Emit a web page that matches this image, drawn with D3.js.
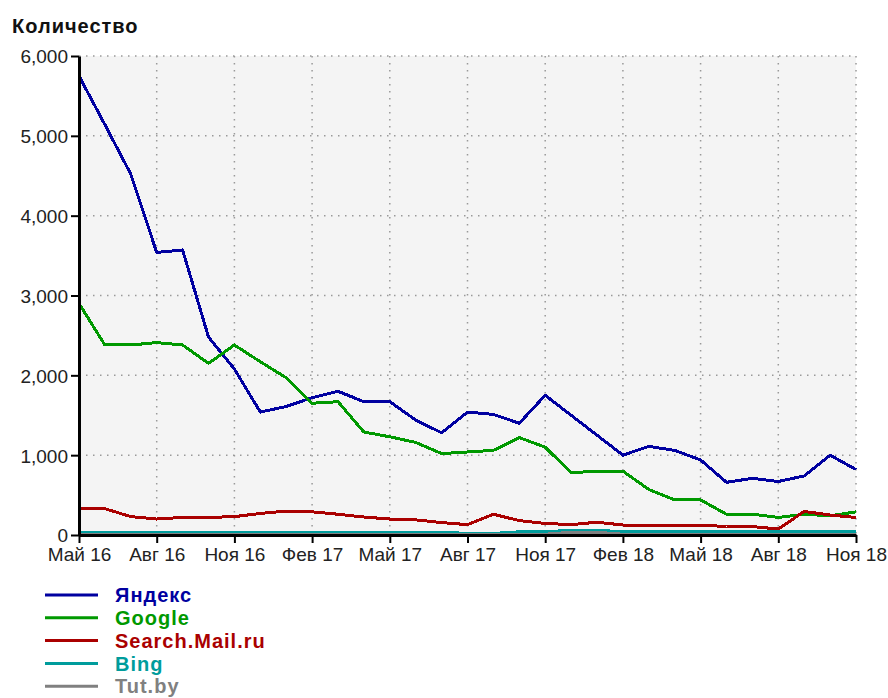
<!DOCTYPE html>
<html>
<head>
<meta charset="utf-8">
<script src="https://cdn.jsdelivr.net/npm/d3@7"></script>
<style>
  body { margin: 0; background: #fff; }
  svg { display: block; font-family: "Liberation Sans", Arial, sans-serif; }
  .grid line { stroke: #999; stroke-width: 1.5; stroke-dasharray: 1.5, 5.5; }
</style>
</head>
<body>
<div id="viz"></div>
<script>
// months May 16 .. Nov 18
var months = ['Май 16', 'Июн 16', 'Июл 16', 'Авг 16', 'Сен 16', 'Окт 16', 'Ноя 16', 'Дек 16',
  'Янв 17', 'Фев 17', 'Мар 17', 'Апр 17', 'Май 17', 'Июн 17', 'Июл 17', 'Авг 17', 'Сен 17',
  'Окт 17', 'Ноя 17', 'Дек 17', 'Янв 18', 'Фев 18', 'Мар 18', 'Апр 18', 'Май 18', 'Июн 18',
  'Июл 18', 'Авг 18', 'Сен 18', 'Окт 18', 'Ноя 18'];
var tickLabels = ['Май 16', 'Авг 16', 'Ноя 16', 'Фев 17', 'Май 17', 'Авг 17', 'Ноя 17',
  'Фев 18', 'Май 18', 'Авг 18', 'Ноя 18'];
var yTicks = [0, 1000, 2000, 3000, 4000, 5000, 6000];

var yandex = [5750, 5140, 4520, 3540, 3570, 2480, 2080, 1540, 1610, 1720, 1800, 1670, 1670,
  1440, 1280, 1540, 1510, 1400, 1750, 1500, 1250, 1000, 1110, 1060, 940, 660, 710, 670, 740, 1000, 820];
var google = [2900, 2380, 2380, 2410, 2380, 2150, 2380, 2170, 1970, 1650, 1670, 1290, 1230,
  1160, 1020, 1040, 1060, 1220, 1100, 780, 800, 800, 570, 440, 440, 260, 260, 220, 260, 240, 290];
var mail = [330, 330, 230, 200, 220, 220, 230, 270, 300, 290, 260, 225, 200, 190, 155, 130,
  260, 180, 145, 130, 160, 125, 125, 125, 125, 105, 105, 75, 295, 250, 220];
var bing = [35, 35, 35, 35, 35, 35, 35, 35, 35, 35, 35, 35, 35, 35, 35, 20, 20, 40, 40, 60,
  60, 40, 40, 40, 40, 40, 40, 40, 40, 40, 40];
var tutby = [10, 10, 10, 10, 10, 10, 10, 10, 10, 10, 10, 10, 10, 10, 10, 10, 10, 10, 10, 35,
  35, 10, 10, 10, 10, 10, 10, 10, 10, 10, 0];

var seriesNames = ['Яндекс', 'Google', 'Search.Mail.ru', 'Bing', 'Tut.by'];
var seriesColors = ['#0000a0', '#009900', '#aa0000', '#009c9c', '#808080'];
var seriesData = [yandex, google, mail, bing, tutby];

var width = 888, height = 698;
var margin = { top: 56, right: 32, bottom: 163, left: 79 };

var svg = d3.select('#viz').append('svg')
  .attr('width', width)
  .attr('height', height);

var x = d3.scalePoint()
  .domain(months)
  .range([margin.left, width - margin.right]);
var y = d3.scaleLinear()
  .domain([0, 6000])
  .range([height - margin.bottom, margin.top]);

// plot background
svg.append('rect')
  .attr('x', margin.left)
  .attr('y', margin.top)
  .attr('width', (width - margin.right) - margin.left)
  .attr('height', (height - margin.bottom) - margin.top)
  .attr('fill', '#f4f4f4');

// dotted grid
var grid = svg.append('g').attr('class', 'grid');
grid.selectAll('.hg').data(yTicks.slice(1)).enter()
  .append('line')
  .attr('x1', margin.left).attr('x2', width - margin.right)
  .attr('y1', function (d) { return y(d); })
  .attr('y2', function (d) { return y(d); });
grid.selectAll('.vg').data(tickLabels.slice(1)).enter()
  .append('line')
  .attr('x1', function (d) { return x(d); })
  .attr('x2', function (d) { return x(d); })
  .attr('y1', margin.top).attr('y2', height - margin.bottom);

// series lines
var line = d3.line()
  .x(function (d, i) { return x(months[i]); })
  .y(function (d) { return y(d); });

svg.append('g').selectAll('path')
  .data(seriesData).enter()
  .append('path')
  .attr('d', line)
  .attr('fill', 'none')
  .attr('stroke', function (d, i) { return seriesColors[i]; })
  .attr('stroke-width', 3)
  .attr('stroke-linejoin', 'round')
  .style('shape-rendering', 'crispEdges');

// axes
var yAxis = svg.append('g')
  .attr('transform', 'translate(' + margin.left + ',0)')
  .call(d3.axisLeft(y).tickValues(yTicks).tickFormat(d3.format(',')).tickSizeInner(8).tickSizeOuter(0));
var xAxis = svg.append('g')
  .attr('transform', 'translate(0,' + (height - margin.bottom) + ')')
  .call(d3.axisBottom(x).tickValues(tickLabels).tickSizeInner(8).tickSizeOuter(0));

[yAxis, xAxis].forEach(function (ax) {
  ax.select('.domain').attr('stroke', '#000').attr('stroke-width', 3);
  ax.selectAll('.tick line').attr('stroke', '#000').attr('stroke-width', 2);
  ax.selectAll('.tick text')
    .attr('fill', '#222')
    .style('font-size', '19px')
    .style('font-family', '"Liberation Sans", Arial, sans-serif');
});
yAxis.selectAll('.tick text').attr('x', -11).attr('dy', '0.36em');
xAxis.selectAll('.tick text').attr('y', 13).attr('dy', '0.71em');

// axis title
svg.append('text')
  .attr('x', 12)
  .attr('y', 33)
  .style('font-size', '20px')
  .style('font-weight', 'bold')
  .style('letter-spacing', '1px')
  .attr('fill', '#111')
  .text('Количество');

// legend
var legend = svg.append('g').selectAll('g')
  .data(seriesNames).enter()
  .append('g')
  .attr('transform', function (d, i) { return 'translate(0,' + (595 + i * 22.8) + ')'; });
legend.append('line')
  .attr('x1', 45).attr('x2', 98)
  .attr('stroke', function (d, i) { return seriesColors[i]; })
  .attr('stroke-width', 3);
legend.append('text')
  .attr('x', 115)
  .attr('dy', '0.36em')
  .style('font-size', '20px')
  .style('font-weight', 'bold')
  .style('letter-spacing', '1px')
  .attr('fill', function (d, i) { return seriesColors[i]; })
  .text(function (d) { return d; });
</script>
</body>
</html>
